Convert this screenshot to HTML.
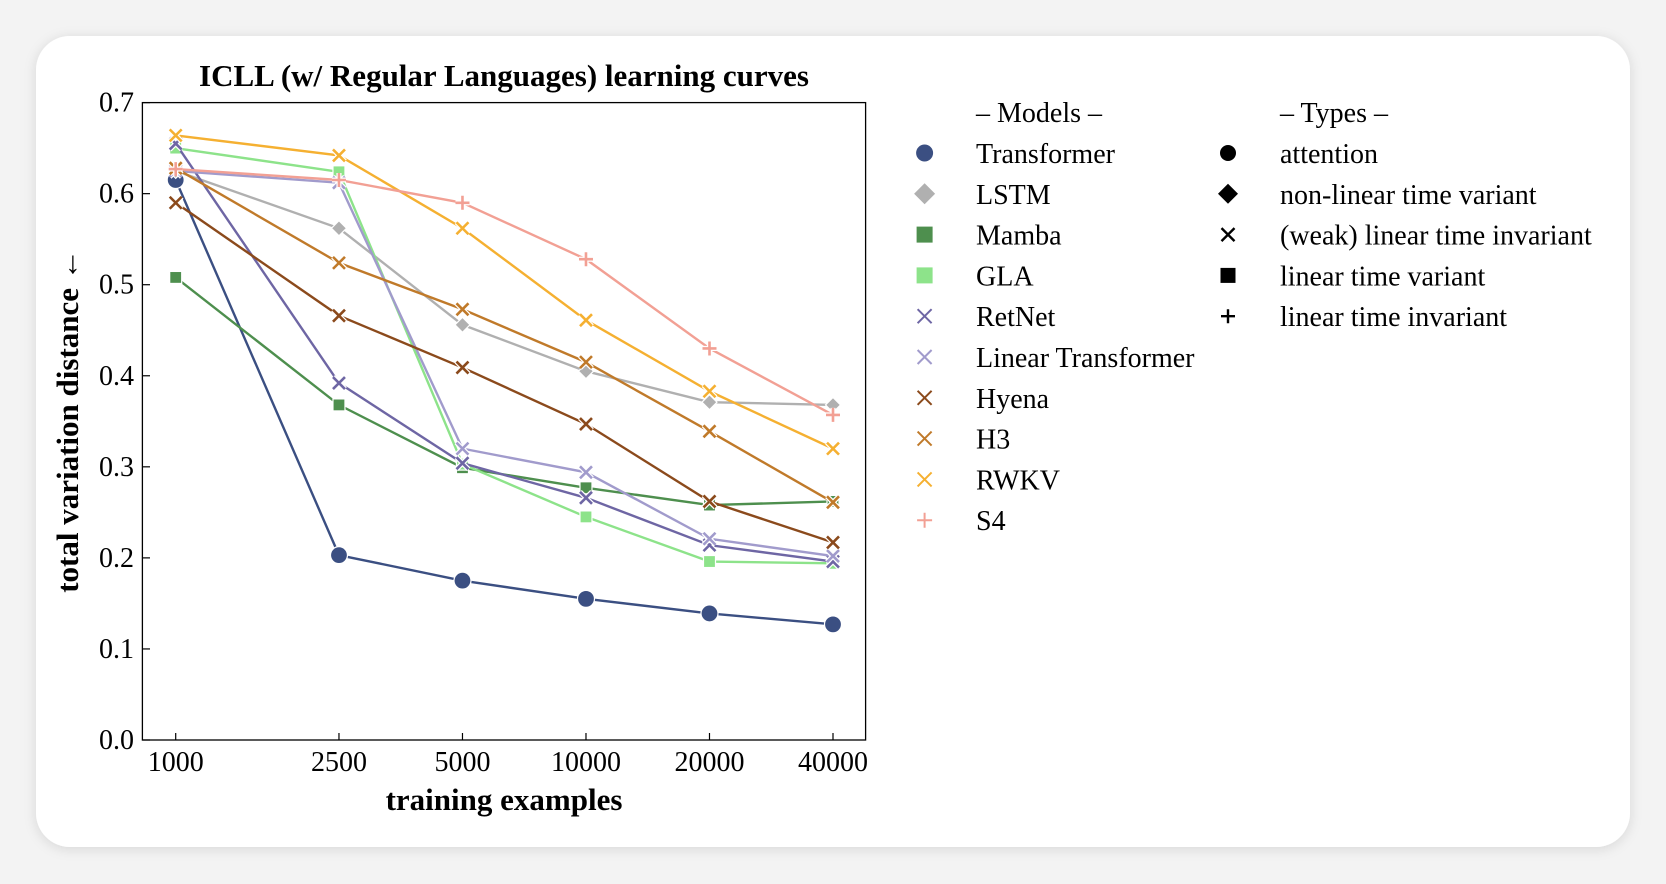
<!DOCTYPE html>
<html><head><meta charset="utf-8"><style>
html,body{margin:0;padding:0;background:#f3f3f3;}
svg{display:block;font-family:"Liberation Serif",serif;}
</style></head><body>
<svg id="chart" width="1666" height="884" viewBox="0 0 1666 884" xmlns="http://www.w3.org/2000/svg">
<defs><filter id="sh" x="-5%" y="-5%" width="110%" height="110%"><feDropShadow dx="0" dy="2" stdDeviation="6" flood-color="#000" flood-opacity="0.12"/></filter></defs>
<rect x="36" y="36" width="1594" height="811" rx="34" fill="#fff" filter="url(#sh)"/>
<text x="504" y="86" font-size="31" font-weight="bold" text-anchor="middle">ICLL (w/ Regular Languages) learning curves</text>
<rect x="142.4" y="102.6" width="723.2" height="637.4" fill="none" stroke="#000" stroke-width="1.3"/>
<g id="axes"></g>
<g id="series"></g>
<text x="504" y="810" font-size="31" font-weight="bold" text-anchor="middle">training examples</text>
<text transform="translate(78,421) rotate(-90)" font-size="31" font-weight="bold" text-anchor="middle">total variation distance ←</text>
<g id="legend"></g>
</svg>
<script>
const categories=[1000,2500,5000,10000,20000,40000];
const xTickLabels=["1000","2500","5000","10000","20000","40000"];
const yTicks=[0,0.1,0.2,0.3,0.4,0.5,0.6,0.7];
const modelNames=["Transformer","LSTM","Mamba","GLA","RetNet","Linear Transformer","Hyena","H3","RWKV","S4"];
const transformer=[0.615,0.203,0.175,0.155,0.139,0.127];
const lstm=[0.625,0.562,0.456,0.405,0.371,0.368];
const mamba=[0.508,0.368,0.299,0.277,0.258,0.262];
const gla=[0.650,0.624,0.303,0.245,0.196,0.194];
const retnet=[0.655,0.392,0.304,0.266,0.214,0.196];
const linearTransformer=[0.625,0.612,0.320,0.294,0.221,0.202];
const hyena=[0.590,0.466,0.409,0.347,0.262,0.217];
const h3=[0.628,0.524,0.473,0.415,0.339,0.261];
const rwkv=[0.664,0.642,0.562,0.461,0.383,0.320];
const s4=[0.627,0.615,0.590,0.528,0.430,0.357];
const typeNames=["attention","non-linear time variant","(weak) linear time invariant","linear time variant","linear time invariant"];

const seriesValues=[transformer,lstm,mamba,gla,retnet,linearTransformer,hyena,h3,rwkv,s4];
const colors=["#3b4f82","#b0b0b0","#4e8f4e","#8de38a","#6e66a4","#a19bcc","#8b4a1c","#c07a2a","#f5b031","#f2a094"];
const markers=["circle","diamond","square","square","x","x","x","x","x","plus"];
const typeMarkers=["circle","diamond","x","square","plus"];
const NS="http://www.w3.org/2000/svg";
const X0=175.7,X1=833,Y0=740,Y1=102.6;
const lmin=Math.log(1000),lmax=Math.log(40000);
function xs(v){return X0+(Math.log(v)-lmin)/(lmax-lmin)*(X1-X0);}
function ys(v){return Y0+(v/0.7)*(Y1-Y0);}
function el(t,a,p){const e=document.createElementNS(NS,t);for(const k in a)e.setAttribute(k,a[k]);p.appendChild(e);return e;}
function marker(kind,cx,cy,r,color,p,edge,w){
  let m;w=w||2.4;
  if(kind==="circle"){m=el("circle",{cx:cx,cy:cy,r:r,fill:color,stroke:edge?"#fff":"none","stroke-width":1.2},p);}
  else if(kind==="diamond"){m=el("polygon",{points:`${cx},${cy-r} ${cx+r},${cy} ${cx},${cy+r} ${cx-r},${cy}`,fill:color,stroke:edge?"#fff":"none","stroke-width":1.2},p);}
  else if(kind==="square"){m=el("rect",{x:cx-r,y:cy-r,width:2*r,height:2*r,fill:color,stroke:edge?"#fff":"none","stroke-width":1.2},p);}
  else if(kind==="x"){const d=`M${cx-r},${cy-r}L${cx+r},${cy+r}M${cx-r},${cy+r}L${cx+r},${cy-r}`;m=el("g",{},p);if(edge)el("path",{d:d,stroke:"#fff","stroke-width":w+2.5},m);el("path",{d:d,stroke:color,"stroke-width":w},m);}
  else {const d=`M${cx-r},${cy}L${cx+r},${cy}M${cx},${cy-r}L${cx},${cy+r}`;m=el("g",{},p);if(edge)el("path",{d:d,stroke:"#fff","stroke-width":w+2.5},m);el("path",{d:d,stroke:color,"stroke-width":w},m);}
  return m;
}
const msize={circle:8.5,diamond:7.5,square:6,x:6,plus:7};
const axes=document.getElementById("axes");
yTicks.forEach((t,i)=>{
  const y=ys(t);
  const tk=el("line",{x1:142.4,x2:150,y1:y,y2:y,stroke:"#000","stroke-width":1.2},axes);
  
  
  const tx=el("text",{x:134,y:y+9,"font-size":28,"text-anchor":"end"},axes);
  
  
  tx.textContent=t.toFixed(1);
});
categories.forEach((c,i)=>{
  const x=xs(c);
  const tk=el("line",{x1:x,x2:x,y1:740,y2:733,stroke:"#000","stroke-width":1.2},axes);
  
  
  const tx=el("text",{x:x,y:771,"font-size":28,"text-anchor":"middle"},axes);
  
  
  tx.textContent=xTickLabels[i];
});
const sg=document.getElementById("series");
seriesValues.forEach((vals,si)=>{
  const g=el("g",{},sg);
  
  
  const pts=vals.map((v,i)=>xs(categories[i])+","+ys(v)).join(" ");
  const ln=el("polyline",{points:pts,fill:"none",stroke:colors[si],"stroke-width":2.4},g);
  
  
  vals.forEach((v,i)=>{
    const m=marker(markers[si],xs(categories[i]),ys(v),msize[markers[si]],colors[si],g,true,2.6);
    
    
  });
});
const lg=document.getElementById("legend");
const h1=el("text",{x:976,y:122,"font-size":28},lg);


h1.textContent="– Models –";
const h2=el("text",{x:1280,y:122,"font-size":28},lg);


h2.textContent="– Types –";
const lsize={circle:8.5,diamond:10.5,square:8,x:7,plus:7.5};
modelNames.forEach((n,i)=>{
  const y=153+i*40.8;
  const g=el("g",{},lg);
  
  
  marker(markers[i],924.6,y,lsize[markers[i]],colors[i],g,false,2);
  const t=el("text",{x:976,y:y+10,"font-size":28},g);
  t.textContent=n;
});
const tsize={circle:8,diamond:10,square:7.5,x:6.5,plus:7};
typeNames.forEach((n,i)=>{
  const y=153+i*40.8;
  const g=el("g",{},lg);
  
  
  marker(typeMarkers[i],1228,y,tsize[typeMarkers[i]],"#000",g,false,2.4);
  const t=el("text",{x:1280,y:y+10,"font-size":28},g);
  t.textContent=n;
});
</script>
</body></html>
